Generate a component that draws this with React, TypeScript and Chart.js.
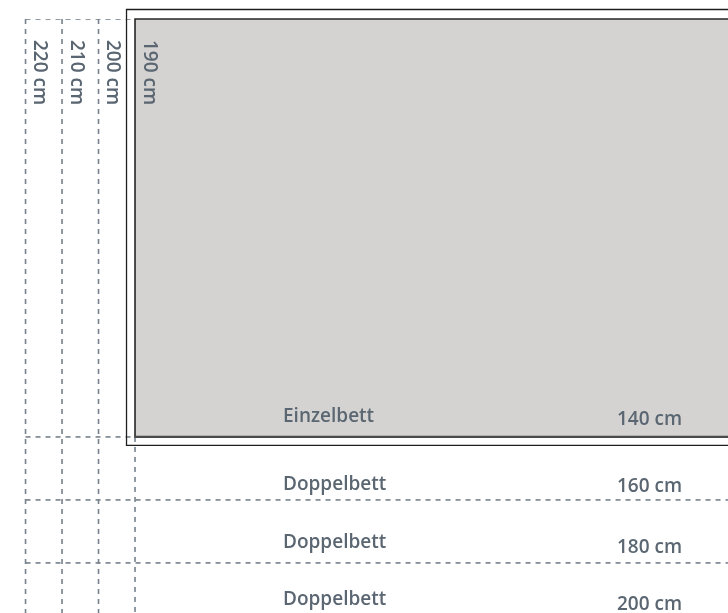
import React, { useEffect, useRef } from "react";
import { Chart, registerables } from "chart.js";

Chart.register(...registerables);

// Bed lengths (horizontal axis, growing to the left) and widths (vertical axis, growing downward)
const lengthsCm = [190, 200, 210, 220];
const lengthLabels = ["190 cm", "200 cm", "210 cm", "220 cm"];
const widthsCm = [140, 160, 180, 200];
const widthLabels = ["140 cm", "160 cm", "180 cm", "200 cm"];
const bedTypes = ["Einzelbett", "Doppelbett", "Doppelbett", "Doppelbett"];

// Axis ranges (diagram is not drawn to a strict scale)
const X_MIN = 27.5;
const X_MAX = 227;
const Y_MIN = 7.3;
const Y_MAX = 195.9;

// Styling: baseline offsets (px) of the row texts above each width line
const NAME_OFFSETS = [-15, -10, -15, -21];
const CM_OFFSETS = [-12, -8, -10, -16];

const TEXT_COLOR = "#5a6671";
const DASH_COLOR = "#76818c";
const BED_FILL = "#d4d3d1";
const FONT = '600 19px "Open Sans", "Noto Sans", sans-serif';

export default function App() {
  const ref = useRef<HTMLCanvasElement | null>(null);

  useEffect(() => {
    document.body.style.margin = "0";
    const canvas = ref.current;
    if (!canvas) return;

    const bedLen = lengthsCm[0];
    const bedWidth = widthsCm[0];
    const maxLen = Math.max(...lengthsCm);

    const dashed = (data: { x: number; y: number }[]) => ({
      data,
      showLine: true,
      borderColor: DASH_COLOR,
      borderWidth: 1.6,
      borderDash: [5, 5],
      pointRadius: 0,
      pointHoverRadius: 0,
      fill: false,
    });

    const datasets: any[] = [];
    // vertical guides for the longer lengths
    lengthsCm.forEach((L) => {
      if (L === bedLen) {
        datasets.push(dashed([{ x: L, y: bedWidth }, { x: L, y: Y_MAX }]));
      } else {
        datasets.push(dashed([{ x: L, y: Y_MIN }, { x: L, y: Y_MAX }]));
      }
    });
    // head edge guide
    datasets.push(dashed([{ x: maxLen, y: Y_MIN }, { x: bedLen, y: Y_MIN }]));
    // width guides
    widthsCm.forEach((w) => {
      if (w === bedWidth) {
        datasets.push(dashed([{ x: maxLen, y: w }, { x: bedLen, y: w }]));
      } else {
        datasets.push(dashed([{ x: maxLen, y: w }, { x: X_MIN, y: w }]));
      }
    });

    const bedPlugin = {
      id: "bedDiagram",
      beforeDatasetsDraw(chart: any) {
        const { ctx, chartArea, scales } = chart;
        const x0 = scales.x.getPixelForValue(bedLen);
        const y1 = scales.y.getPixelForValue(bedWidth);
        ctx.save();
        ctx.fillStyle = BED_FILL;
        ctx.fillRect(x0, chartArea.top, chartArea.right - x0 + 10, y1 - chartArea.top);
        ctx.restore();
      },
      afterDatasetsDraw(chart: any) {
        const { ctx, chartArea, scales } = chart;
        const xs = scales.x;
        const ys = scales.y;
        const x0 = xs.getPixelForValue(bedLen);
        const top = chartArea.top;
        const y1 = ys.getPixelForValue(bedWidth);
        const right = chartArea.right + 10;
        ctx.save();
        // outer frame
        ctx.strokeStyle = "#1e1e1e";
        ctx.lineWidth = 1.3;
        ctx.beginPath();
        ctx.moveTo(right, top - 9.5);
        ctx.lineTo(x0 - 8.5, top - 9.5);
        ctx.lineTo(x0 - 8.5, y1 + 8.5);
        ctx.lineTo(right, y1 + 8.5);
        ctx.stroke();
        // inner frame (mattress)
        ctx.strokeStyle = "#262626";
        ctx.lineWidth = 1.6;
        ctx.beginPath();
        ctx.moveTo(right, top);
        ctx.lineTo(x0, top);
        ctx.lineTo(x0, y1);
        ctx.stroke();
        ctx.strokeStyle = "#4a4a4a";
        ctx.lineWidth = 2.2;
        ctx.beginPath();
        ctx.moveTo(x0 - 0.8, y1);
        ctx.lineTo(right, y1);
        ctx.stroke();

        // text
        ctx.fillStyle = TEXT_COLOR;
        ctx.font = FONT;
        // length labels, rotated
        lengthsCm.forEach((L, i) => {
          const px = xs.getPixelForValue(L) + 14;
          ctx.save();
          ctx.translate(px, top + 21);
          ctx.rotate(Math.PI / 2);
          ctx.textAlign = "left";
          ctx.textBaseline = "middle";
          ctx.fillText(lengthLabels[i], 0, 0);
          ctx.restore();
        });
        // width rows
        widthsCm.forEach((w, i) => {
          const py = ys.getPixelForValue(w);
          ctx.textBaseline = "alphabetic";
          ctx.textAlign = "left";
          ctx.fillText(bedTypes[i], x0 + 148, py + NAME_OFFSETS[i]);
          ctx.textAlign = "right";
          ctx.fillText(widthLabels[i], x0 + 547, py + CM_OFFSETS[i]);
        });
        ctx.restore();
      },
    };

    const chart = new Chart(canvas, {
      type: "scatter",
      data: { datasets },
      options: {
        animation: false,
        responsive: false,
        events: [],
        layout: { padding: { top: 19, left: 0, right: 0, bottom: 0 } },
        plugins: {
          legend: { display: false },
          tooltip: { enabled: false },
        },
        scales: {
          x: { type: "linear", min: X_MIN, max: X_MAX, reverse: true, display: false },
          y: { type: "linear", min: Y_MIN, max: Y_MAX, reverse: true, display: false },
        },
      },
      plugins: [bedPlugin],
    });

    return () => {
      chart.destroy();
    };
  }, []);

  return (
    <div style={{ width: 728, height: 613 }}>
      <canvas ref={ref} width={728} height={613} style={{ display: "block" }} />
    </div>
  );
}
